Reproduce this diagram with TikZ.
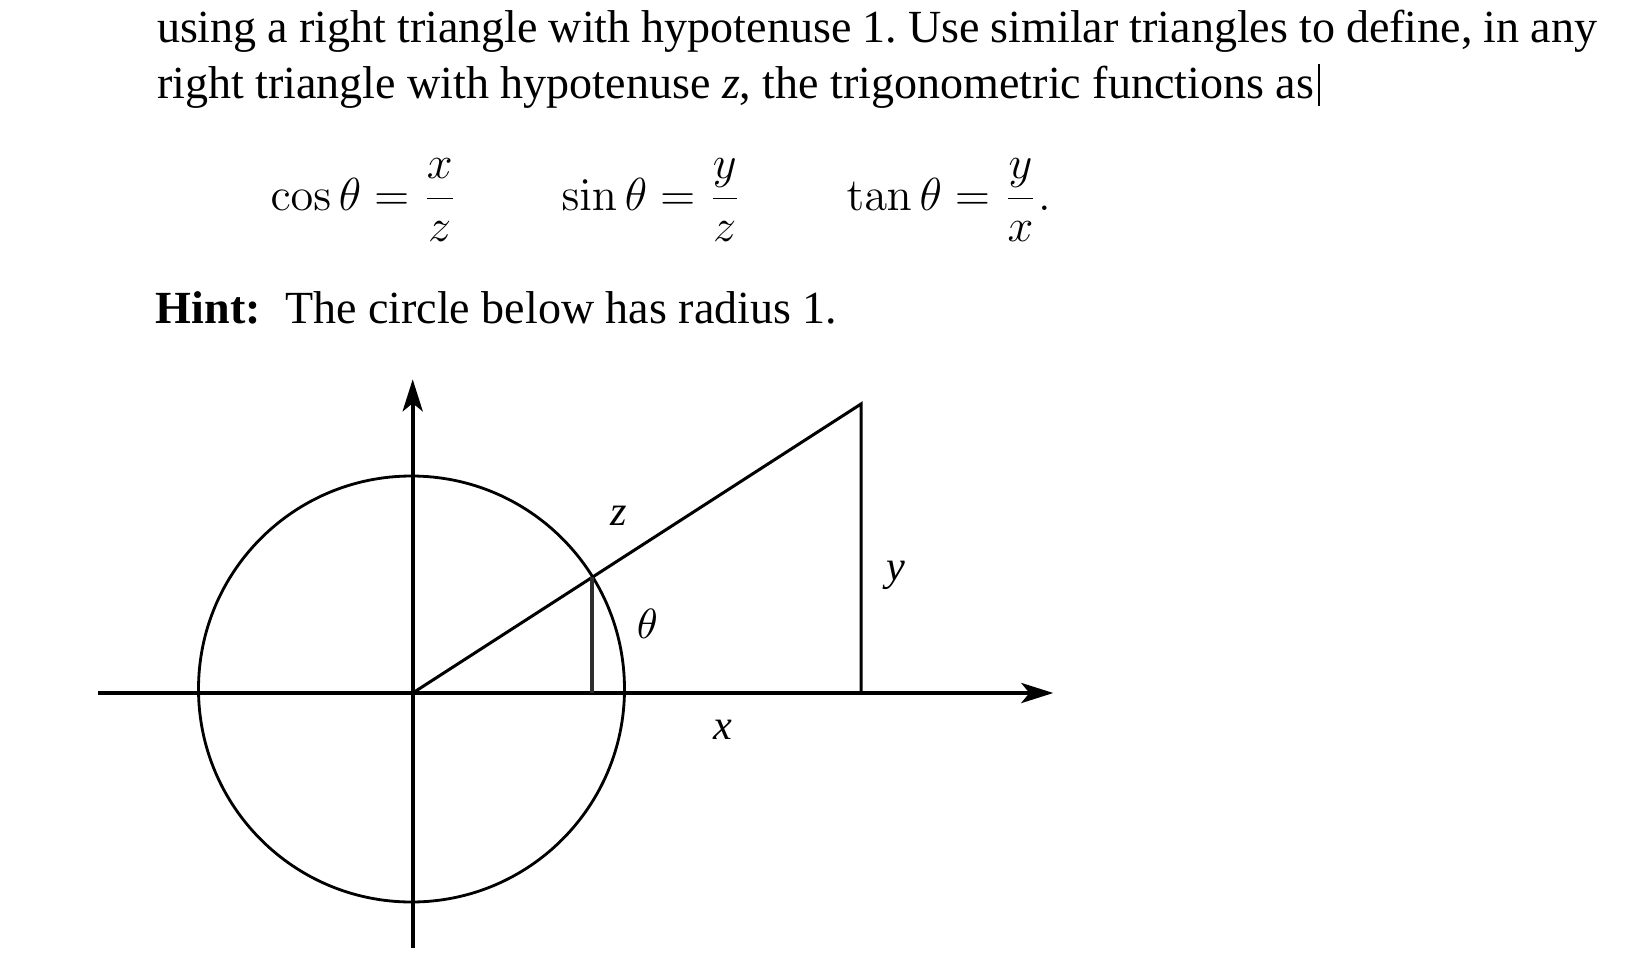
\documentclass[tikz,border=0pt]{standalone}
\usepackage[no-math]{fontspec}
\setmainfont{Liberation Serif}
\usetikzlibrary{arrows.meta}
\newcommand\txtsize{\fontsize{11.93}{14.5}\selectfont\frenchspacing}
\newcommand\mathsize{\fontsize{12}{14.5}\selectfont}
\newcommand\lblsize{\fontsize{10.95}{13}\selectfont}
\tikzset{
  txt/.style={inner sep=0pt, outer sep=0pt, anchor=base west, font=\txtsize},
  frm/.style={inner sep=0pt, outer sep=0pt, anchor=base west, font=\mathsize},
  lbl/.style={inner sep=0pt, outer sep=0pt, anchor=base, font=\lblsize},
  axis/.style={line width=1.037pt, -{Stealth[length=8.3pt,width=5.2pt,inset=2.1pt]}},
  thinline/.style={line width=0.78pt},
}
\begin{document}
\begin{tikzpicture}[x=0.25918pt,y=-0.25918pt]
\fill[white] (0,0) rectangle (1650,960);
\useasboundingbox (0,0) rectangle (1650,960);
% text
\node[txt] (l1) at (157,42.3) {\makebox[373.2pt][s]{using a right triangle with hypotenuse 1. Use similar triangles to define, in any}};
\node[txt] (l2) at (157,98) {right triangle with hypotenuse \textit{z}, the trigonometric functions as};
\draw[line width=0.52pt] (l2.base east) ++(5,-34) -- ++(0,41.7);
\node[frm] (f1) at (270.5,210) {$\displaystyle\cos\theta = \frac{x}{z}$};
\node[frm] (f2) at (561.5,210) {$\displaystyle\sin\theta = \frac{y}{z}$};
\node[frm] (f3) at (846.5,210) {$\displaystyle\tan\theta = \frac{y}{x}.$};
\node[txt] (hint) at (156,323) {\textbf{Hint:}};
\node[txt] (hinttext) at (285,323) {The circle below has radius 1.};
% diagram
\coordinate (O) at (412.7,693);
\coordinate (L) at (98.3,693);
\coordinate (R) at (1053.3,693);
\coordinate (B) at (412.7,948.3);
\coordinate (T) at (412.7,379.3);
\coordinate (C) at (411.5,689);
\coordinate (P) at (592,576.7);
\coordinate (Pf) at (592,693);
\coordinate (Q) at (861,404);
\coordinate (Qf) at (861,693);
\draw[line width=0.73pt] (C) circle[radius=213];
\draw[axis] (L) -- (R);
\draw[axis] (B) -- (T);
\draw[thinline] (O) -- (Q) -- (Qf);
\draw[line width=0.9pt, black!82] (P) -- (Pf);
\node[lbl] (lz) at (619,525) {\textit{z}};
\node[lbl] (lth) at (647.3,638.3) {$\theta$};
\node[lbl] (ly) at (895.7,580) {\textit{y}};
\node[lbl] (lx) at (723.3,739) {\textit{x}};
\end{tikzpicture}
\end{document}
